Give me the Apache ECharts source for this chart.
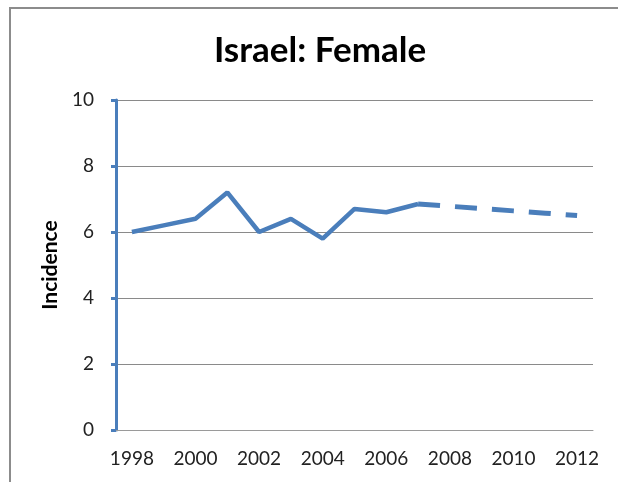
<!DOCTYPE html>
<html>
<head>
<meta charset="utf-8">
<script src="https://cdn.jsdelivr.net/npm/echarts@6/dist/echarts.min.js"></script>
<style>
  html, body { margin: 0; padding: 0; background: #fff; }
</style>
</head>
<body>
<div id="chart" style="width: 618px; height: 482px;"></div>
<script>
  // years on the x axis
  const years = ['1998', '1999', '2000', '2001', '2002', '2003', '2004', '2005',
                 '2006', '2007', '2008', '2009', '2010', '2011', '2012'];
  // observed incidence
  const observed = [6.0, 6.2, 6.4, 7.2, 6.0, 6.4, 5.8, 6.7, 6.6, 6.85,
                    null, null, null, null, null];
  // projected incidence (dashed)
  const projected = [null, null, null, null, null, null, null, null, null, 6.85,
                     6.78, 6.71, 6.64, 6.57, 6.5];

  const blue = '#4a7ebb';
  const font = 'Lato, "Open Sans", sans-serif';

  let chart = echarts.init(document.getElementById('chart'));

  let option = {
    animation: false,
    title: {
      text: 'Israel: Female',
      left: 315,
      textAlign: 'center',
      top: 28,
      textStyle: {
        fontFamily: font,
        fontWeight: 'bold',
        fontSize: 35,
        color: '#000'
      }
    },
    graphic: [{
      type: 'rect',
      shape: { x: 10, y: 8, width: 700, height: 600 },
      style: { fill: 'none', stroke: '#8c8c8c', lineWidth: 2 },
      silent: true
    }],
    grid: {
      left: 116,
      right: 25,
      top: 100,
      bottom: 52
    },
    xAxis: {
      type: 'category',
      data: years,
      boundaryGap: true,
      axisLine: { lineStyle: { color: '#9a9a9a', width: 1 } },
      axisTick: { interval: 0, length: 6, lineStyle: { color: '#9a9a9a' } },
      axisLabel: {
        interval: 1,
        margin: 19,
        fontFamily: font,
        fontSize: 19,
        color: '#222'
      }
    },
    yAxis: {
      type: 'value',
      min: 0,
      max: 10,
      interval: 2,
      name: 'Incidence',
      nameLocation: 'middle',
      nameGap: 52,
      nameTextStyle: {
        fontFamily: font,
        fontWeight: 'bold',
        fontSize: 21,
        color: '#000'
      },
      axisLine: { show: true, lineStyle: { color: blue, width: 3 } },
      axisTick: { show: true, length: 5, lineStyle: { color: blue, width: 3 } },
      axisLabel: {
        margin: 22,
        fontFamily: font,
        fontSize: 19,
        color: '#222'
      },
      splitLine: { lineStyle: { color: '#8a8a8a', width: 1 } }
    },
    series: [
      {
        name: 'observed',
        type: 'line',
        data: observed,
        symbol: 'none',
        lineStyle: { color: blue, width: 4.5 }
      },
      {
        name: 'projected',
        type: 'line',
        data: projected,
        symbol: 'none',
        lineStyle: { color: blue, width: 5, type: [22, 15] }
      }
    ]
  };

  chart.setOption(option);
</script>
</body>
</html>
